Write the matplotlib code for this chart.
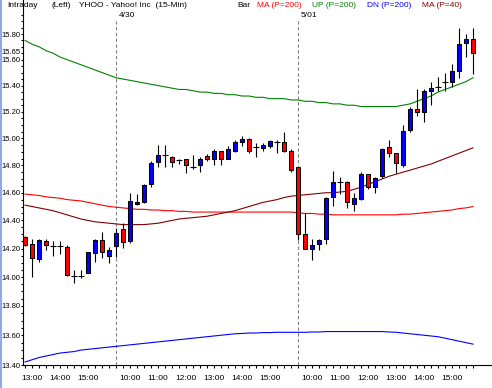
import matplotlib
matplotlib.use('Agg')
import matplotlib.pyplot as plt
import numpy as np
from matplotlib.lines import Line2D
from matplotlib.ticker import FixedLocator, FuncFormatter, NullFormatter

# 15-minute bars: afternoon of 4/29, then 4/30 and 5/01
DAY1_TIMES = ['12:45', '13:00', '13:15', '13:30', '13:45', '14:00', '14:15',
              '14:30', '14:45', '15:00', '15:15', '15:30', '15:45']
FULL_DAY_TIMES = ['9:30', '9:45', '10:00', '10:15', '10:30', '10:45', '11:00',
                  '11:15', '11:30', '11:45', '12:00', '12:15', '12:30', '12:45',
                  '13:00', '13:15', '13:30', '13:45', '14:00', '14:15', '14:30',
                  '14:45', '15:00', '15:15', '15:30', '15:45']
TIMES = DAY1_TIMES + FULL_DAY_TIMES + FULL_DAY_TIMES
DATES = ['4/30', '5/01']

OPENS = [14.28, 14.23, 14.125, 14.255, 14.22, 14.22, 14.21, 14.01, 14.01, 14.03,
         14.17, 14.26, 14.15,
         14.22, 14.34, 14.25, 14.52, 14.53, 14.665, 14.826, 14.875, 14.865, 14.84,
         14.845, 14.79, 14.80, 14.87, 14.85, 14.905, 14.85, 14.91, 14.97, 14.995,
         14.935, 14.925, 14.94, 14.975, 14.975, 14.905,
         14.79, 14.305, 14.20, 14.23, 14.265, 14.57, 14.675, 14.675, 14.52, 14.555,
         14.735, 14.64, 14.72, 14.935, 14.89, 14.80, 15.06, 15.22, 15.195, 15.355,
         15.39, 15.425, 15.43, 15.515, 15.73, 15.76]
HIGHS = [14.29, 14.27, 14.27, 14.27, 14.25, 14.25, 14.225, 14.048, 14.048, 14.175,
         14.265, 14.32, 14.213,
         14.346, 14.385, 14.597, 14.59, 14.665, 14.835, 14.95, 14.95, 14.87, 14.85,
         14.85, 14.875, 14.86, 14.885, 14.92, 14.91, 14.94, 14.985, 15.015, 15.00,
         14.965, 14.965, 14.99, 14.985, 15.05, 14.92,
         14.79, 14.455, 14.27, 14.27, 14.57, 14.76, 14.715, 14.685, 14.60, 14.75,
         14.74, 14.715, 14.93, 14.99, 14.89, 15.10, 15.235, 15.37, 15.37, 15.43,
         15.465, 15.50, 15.565, 15.85, 15.80, 15.85]
LOWS = [14.22, 14.00, 14.105, 14.19, 14.146, 14.16, 14.006, 13.96, 13.99, 14.025,
        14.106, 14.136, 14.095,
        14.143, 14.206, 14.24, 14.51, 14.525, 14.645, 14.79, 14.79, 14.785, 14.81,
        14.745, 14.77, 14.75, 14.835, 14.80, 14.80, 14.85, 14.90, 14.94, 14.89,
        14.865, 14.91, 14.925, 14.89, 14.90, 14.75,
        14.26, 14.195, 14.12, 14.19, 14.235, 14.505, 14.59, 14.49, 14.47, 14.545,
        14.63, 14.60, 14.71, 14.865, 14.745, 14.79, 15.05, 15.17, 15.12, 15.25,
        15.355, 15.355, 15.39, 15.455, 15.62, 15.49]
CLOSES = [14.225, 14.131, 14.26, 14.225, 14.22, 14.22, 14.013, 14.01, 14.01, 14.175,
          14.26, 14.177, 14.189,
          14.308, 14.248, 14.54, 14.53, 14.655, 14.815, 14.876, 14.875, 14.825, 14.84,
          14.80, 14.79, 14.85, 14.85, 14.905, 14.85, 14.92, 14.97, 14.995, 14.91,
          14.935, 14.95, 14.98, 14.975, 14.905, 14.765,
          14.30, 14.20, 14.225, 14.26, 14.565, 14.675, 14.675, 14.53, 14.565, 14.735,
          14.64, 14.71, 14.92, 14.895, 14.82, 15.055, 15.22, 15.20, 15.36, 15.38,
          15.39, 15.425, 15.515, 15.72, 15.76, 15.655]

MA200 = [14.59, 14.585, 14.58, 14.57, 14.565, 14.56, 14.55, 14.545, 14.54, 14.53,
         14.52, 14.51, 14.50, 14.495, 14.49, 14.485, 14.48, 14.48, 14.475, 14.475,
         14.47, 14.47, 14.465, 14.465, 14.46, 14.46, 14.46, 14.46, 14.46, 14.46,
         14.46, 14.46, 14.46, 14.46, 14.46, 14.46, 14.46, 14.46, 14.46, 14.455,
         14.45, 14.45, 14.445, 14.445, 14.44, 14.44, 14.44, 14.44, 14.44, 14.44,
         14.44, 14.44, 14.44, 14.44, 14.445, 14.445, 14.45, 14.455, 14.46, 14.465,
         14.47, 14.475, 14.485, 14.49, 14.50]
UP200 = [15.75, 15.72, 15.70, 15.67, 15.65, 15.62, 15.60, 15.58, 15.56, 15.54,
         15.52, 15.50, 15.48, 15.46, 15.45, 15.44, 15.43, 15.42, 15.41, 15.40,
         15.39, 15.38, 15.37, 15.37, 15.36, 15.35, 15.35, 15.34, 15.34, 15.33,
         15.33, 15.32, 15.32, 15.31, 15.31, 15.30, 15.30, 15.30, 15.29, 15.29,
         15.28, 15.28, 15.27, 15.27, 15.26, 15.26, 15.25, 15.25, 15.24, 15.24,
         15.24, 15.24, 15.24, 15.24, 15.25, 15.26, 15.28, 15.30, 15.32, 15.35,
         15.37, 15.39, 15.41, 15.43, 15.46]
DN200 = [13.42, 13.435, 13.45, 13.46, 13.47, 13.48, 13.485, 13.49, 13.50, 13.505,
         13.51, 13.515, 13.52, 13.525, 13.53, 13.535, 13.54, 13.545, 13.55, 13.555,
         13.56, 13.565, 13.57, 13.575, 13.58, 13.585, 13.59, 13.595, 13.60, 13.605,
         13.61, 13.612, 13.615, 13.615, 13.618, 13.618, 13.62, 13.62, 13.62, 13.62,
         13.62, 13.622, 13.622, 13.625, 13.625, 13.625, 13.625, 13.625, 13.625, 13.625,
         13.625, 13.625, 13.622, 13.62, 13.615, 13.61, 13.605, 13.60, 13.595, 13.59,
         13.58, 13.57, 13.56, 13.55, 13.54]
MA40 = [14.51, 14.50, 14.49, 14.48, 14.47, 14.455, 14.44, 14.425, 14.41, 14.40,
        14.39, 14.385, 14.38, 14.375, 14.37, 14.37, 14.37, 14.37, 14.375, 14.38,
        14.39, 14.40, 14.41, 14.415, 14.42, 14.425, 14.43, 14.44, 14.45, 14.46,
        14.47, 14.485, 14.50, 14.515, 14.53, 14.54, 14.55, 14.565, 14.575, 14.58,
        14.585, 14.59, 14.595, 14.60, 14.60, 14.605, 14.61, 14.625, 14.64, 14.66,
        14.68, 14.70, 14.72, 14.735, 14.75, 14.765, 14.78, 14.795, 14.81, 14.83,
        14.85, 14.87, 14.89, 14.91, 14.93]

Y_MAJOR = [13.40, 13.60, 13.80, 14.00, 14.20, 14.40, 14.60, 14.80, 15.00, 15.20,
           15.40, 15.60, 15.80]

W, H = 492, 388
plt.rcParams['font.family'] = ['Liberation Sans', 'DejaVu Sans']
plt.rcParams['font.size'] = 6

fig = plt.figure(figsize=(W / 100, H / 100), dpi=100)
fig.patch.set_facecolor('white')
ax = fig.add_axes([23 / W, 23 / H, (491 - 23) / W, 365 / H])

x = np.arange(len(CLOSES))
o = np.array(OPENS)
c = np.array(CLOSES)
hi = np.array(HIGHS)
lo = np.array(LOWS)

# indicator lines
ax.plot(x, MA200, color='#ff0000', lw=0.8, zorder=2)
ax.plot(x, UP200, color='#008000', lw=0.8, zorder=2)
ax.plot(x, DN200, color='#0000ff', lw=0.8, zorder=2)
ax.plot(x, MA40, color='#800000', lw=0.8, zorder=2)

# day separators
day_starts = [i for i, t in enumerate(TIMES) if t == '9:30']
ax.vlines(day_starts, 13.40, 15.91, color='#808080', lw=0.8,
          linestyles=(0, (3, 2.2)), zorder=1)
for i, d in zip(day_starts, DATES):
    ax.text(i + 1.6, 15.946, d, ha='center', va='center', fontsize=6)

# candles
ax.vlines(x, lo, hi, color='black', lw=0.8, zorder=3)
up = c > o
dn = c < o
flat = c == o
bw = 0.62
ax.bar(x[up], c[up] - o[up], bottom=o[up], width=bw, color='#0000ff',
       edgecolor='black', linewidth=0.75, zorder=4)
ax.bar(x[dn], o[dn] - c[dn], bottom=c[dn], width=bw, color='#ff0000',
       edgecolor='black', linewidth=0.75, zorder=4)
ax.hlines(c[flat], x[flat] - 0.4, x[flat] + 0.4, color='black', lw=0.8, zorder=4)

ax.set_yscale('log')
ax.set_ylim(13.40, 16.07)
ax.set_xlim(-0.29, 66.57)

# y axis
ax.yaxis.set_major_locator(FixedLocator(Y_MAJOR))
ax.yaxis.set_minor_locator(FixedLocator(np.arange(13.40, 16.0, 0.05)))
ax.yaxis.set_major_formatter(FuncFormatter(lambda v, p: f'{v:.2f}'))
ax.yaxis.set_minor_formatter(NullFormatter())
ax.tick_params(axis='y', which='major', length=1.6, width=0.8, pad=0.3, labelsize=5.5)
ax.tick_params(axis='y', which='minor', length=1.2, width=0.8)

# last price marker on the axis
ax.annotate(f'{CLOSES[-1]:.2f}', xy=(0, CLOSES[-1]), xycoords=('axes fraction', 'data'),
            xytext=(-2.6, 0), textcoords='offset pixels', ha='right', va='center',
            fontsize=5.5, annotation_clip=False)

# x axis
hour_idx = [i for i, t in enumerate(TIMES) if t.endswith(':00')]
ax.set_xticks(hour_idx)
ax.set_xticklabels([TIMES[i] for i in hour_idx])
ax.set_xticks(x, minor=True)
ax.tick_params(axis='x', which='both', length=2.5, width=0.8, pad=5, labelsize=6)

for s in ['top', 'right']:
    ax.spines[s].set_visible(False)
for s in ['left', 'bottom']:
    ax.spines[s].set_linewidth(0.8)

# header line
header = [(7, 'Intraday', 'black'), (52, '(Left)', 'black'),
          (79, 'YHOO - Yahoo! Inc  (15-Min)', 'black'), (237, 'Bar', 'black'),
          (257, 'MA (P=200)', '#ff0000'), (312, 'UP (P=200)', '#008000'),
          (367, 'DN (P=200)', '#0000ff'), (422, 'MA (P=40)', '#800000')]
for px, txt, col in header:
    fig.text(px / W, 1 - 5.5 / H, txt, color=col, ha='left', va='center', fontsize=6)

# window border on the left
fig.add_artist(Line2D([1 / W, 1 / W], [0, 1], color='#8fa8e8', lw=1.5))

fig.savefig('out.png', dpi=100, facecolor='white')
